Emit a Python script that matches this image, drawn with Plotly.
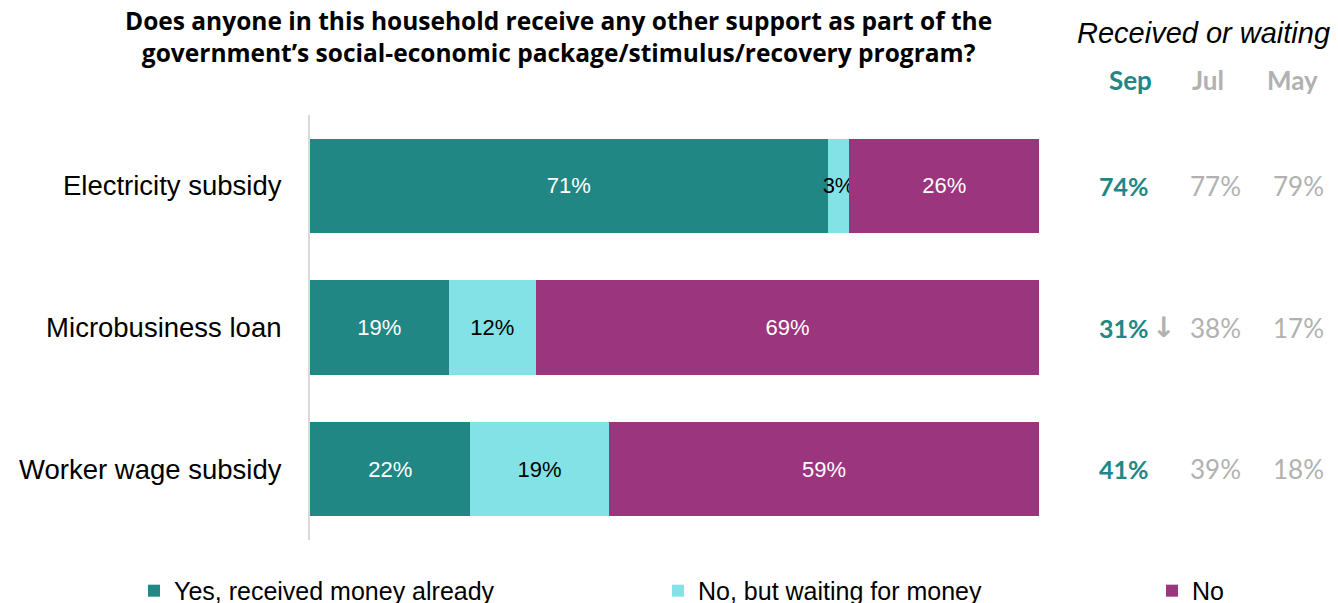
import plotly.graph_objects as go

# Survey data
categories = ["Electricity subsidy", "Microbusiness loan", "Worker wage subsidy"]
received = [71, 19, 22]
waiting = [3, 12, 19]
no_support = [26, 69, 59]

# Received-or-waiting share over time
months = ["Sep", "Jul", "May"]
sep_vals = [74, 31, 41]
jul_vals = [77, 38, 39]
may_vals = [79, 17, 18]
trend_marks = ["", "↓", ""]

TEAL = "#218784"
CYAN = "#83E2E6"
PURPLE = "#9B357D"
GRAY = "#b1b1b1"

series = [
    ("Yes, received money already", received, TEAL, "white", "legend"),
    ("No, but waiting for money", waiting, CYAN, "black", "legend2"),
    ("No", no_support, PURPLE, "white", "legend3"),
]

fig = go.Figure()
for name, vals, color, tcolor, leg in series:
    fig.add_trace(go.Bar(
        y=categories, x=vals, name=name, orientation="h",
        marker=dict(color=color, line=dict(width=0)),
        text=[f"{v}%" for v in vals], textposition="inside",
        insidetextanchor="middle", textangle=0,
        textfont=dict(family="Liberation Sans, Arial, sans-serif", size=22, color=tcolor),
        legend=leg, showlegend=True,
    ))

fig.update_layout(
    barmode="stack",
    bargap=0.335,
    width=1338, height=603,
    margin=dict(l=310, r=299, t=115, b=63),
    plot_bgcolor="white", paper_bgcolor="white",
    uniformtext=dict(minsize=22, mode="show"),
    xaxis=dict(range=[0, 100], visible=False, fixedrange=True),
    yaxis=dict(
        autorange="reversed", showline=True, linecolor="#d9d9d9", linewidth=2,
        ticks="", ticklabelstandoff=21,
        tickfont=dict(family="Liberation Sans, Arial, sans-serif", size=27.5, color="black"),
        showgrid=False,
    ),
)

legend_style = dict(
    orientation="h", xref="container", yref="container",
    yanchor="middle", y=0.02, bgcolor="rgba(0,0,0,0)",
    font=dict(family="Liberation Sans Narrow, Arial Narrow, sans-serif", size=25, color="black"),
    itemwidth=30, visible=True,
)
fig.update_layout(
    showlegend=True,
    legend=dict(x=134 / 1338, **legend_style),
    legend2=dict(x=658 / 1338, **legend_style),
    legend3=dict(x=1152 / 1338, **legend_style),
)


def px(xpix):
    return (xpix - 310) / 729


def py(ypix):
    return 1 + (115 - ypix) / 425


# Chart question
fig.add_annotation(
    text="<b>Does anyone in this household receive any other support as part of the<br>"
         "government’s social-economic package/stimulus/recovery program?</b>",
    xref="paper", yref="paper", x=px(558), y=py(36.5),
    xanchor="center", yanchor="middle", showarrow=False, align="center",
    font=dict(family="Open Sans, Lato, sans-serif", size=24.5, color="black"),
)

# Right-hand comparison columns
fig.add_annotation(
    text="<i>Received or waiting</i>", xref="paper", yref="paper",
    x=px(1203), y=py(33), showarrow=False, xanchor="center", yanchor="middle",
    font=dict(family="Liberation Sans, Arial, sans-serif", size=29, color="black"),
)
header_x = [1130, 1208, 1292]
for m, hx, col in zip(months, header_x, [TEAL, GRAY, GRAY]):
    fig.add_annotation(
        text=f"<b>{m}</b>", xref="paper", yref="paper",
        x=px(hx), y=py(80), showarrow=False, xanchor="center", yanchor="middle",
        font=dict(family="Lato, Open Sans, sans-serif", size=26, color=col),
    )

col_x = [1124, 1215, 1298]
for i, cat in enumerate(categories):
    fig.add_annotation(
        text=f"<b>{sep_vals[i]}%</b>", x=px(col_x[0]), xref="paper", y=cat, yref="y",
        showarrow=False, xanchor="center",
        font=dict(family="Lato, Open Sans, sans-serif", size=25, color=TEAL),
    )
    if trend_marks[i]:
        fig.add_annotation(
            text=f"<b>{trend_marks[i]}</b>", x=px(1163), xref="paper", y=cat, yref="y",
            showarrow=False, xanchor="center",
            font=dict(family="DejaVu Sans, sans-serif", size=28, color=GRAY),
        )
    for vals, cx in ((jul_vals, col_x[1]), (may_vals, col_x[2])):
        fig.add_annotation(
            text=f"{vals[i]}%", x=px(cx), xref="paper", y=cat, yref="y",
            showarrow=False, xanchor="center",
            font=dict(family="Lato, Open Sans, sans-serif", size=26, color=GRAY),
        )

fig.write_html("out.html")
